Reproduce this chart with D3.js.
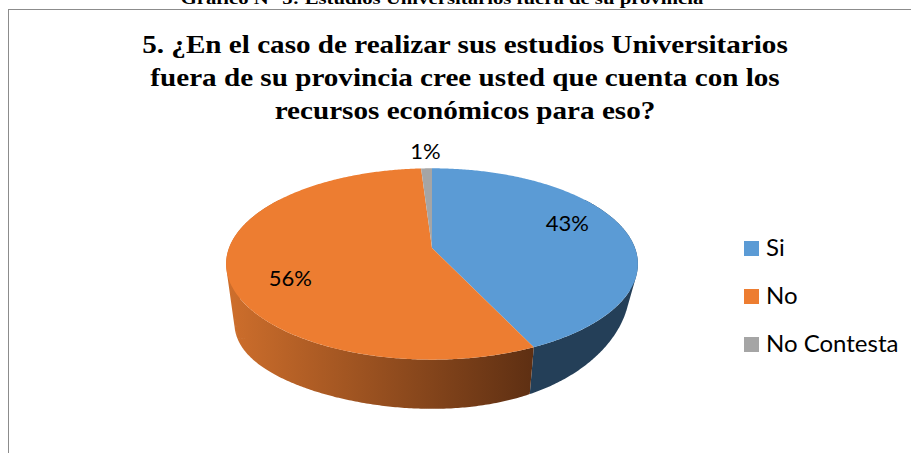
<!DOCTYPE html>
<html lang="es">
<head>
  <meta charset="UTF-8" />
  <title>Gráfico N° 5: Estudios Universitarios fuera de su provincia</title>
  <script src="https://d3js.org/d3.v7.min.js"></script>
  <style>
    body {
      margin: 0;
      background: #fff;
    }

    svg {
      display: block;
      background-color: #fff;
    }

    .caption, .title {
      font-family: "Liberation Serif", "Times New Roman", serif;
      font-weight: bold;
      fill: #000;
    }

    .caption { font-size: 17px; }
    .title { font-size: 25px; }

    .lbl, .legend text {
      font-family: Lato, "Open Sans", sans-serif;
      fill: #000;
    }
  </style>
</head>
<body>
  <div id="chart"></div>

  <script>
    // datos
    const categories = ["Si", "No", "No Contesta"];
    const percents = [43, 56, 1];
    const colors = ["#5B9BD5", "#ED7D31", "#A5A5A5"];
    const sideColors = ["#243F58", "url(#sideNo)", "#6E6E6E"];
    const caption = "Gráfico N° 5: Estudios Universitarios fuera de su provincia";
    const titleLines = [
      "5. ¿En el caso de realizar sus estudios Universitarios",
      "fuera de su provincia cree usted que cuenta con los",
      "recursos económicos para eso?"
    ];

    const width = 911, height = 453;

    // geometria del pastel 3D (perspectiva simple, algo girado)
    const cx = 432, cy = 248, rx = 203, ry = 93, persp = 0.167;
    const depth = 41, tilt = 17, shrink = 0.96;

    function project(a, r = 1) {
      const u = Math.sin(a) * r, v = -Math.cos(a) * r;
      const s = 1 / (1 - persp * v);
      return [cx + rx * u * s, cy + ry * v * s];
    }

    function projectBottom(a) {
      const u = Math.sin(a), v = -Math.cos(a);
      const p = project(a);
      return [
        cx + (p[0] - cx) * shrink,
        p[1] + depth / (1 - persp * v) - tilt * u * u * u
      ];
    }

    function angles(a0, a1) {
      const n = Math.max(2, Math.ceil((a1 - a0) / 0.01));
      return d3.range(n + 1).map(i => a0 + (a1 - a0) * i / n);
    }

    // triangulo siempre con la misma orientacion (para que la regla nonzero los una)
    function tri(p, q, r) {
      const area = (q[0] - p[0]) * (r[1] - p[1]) - (q[1] - p[1]) * (r[0] - p[0]);
      return area >= 0 ? [p, q, r] : [p, r, q];
    }

    const svg = d3.select("#chart")
      .append("svg")
      .attr("width", width)
      .attr("height", height);

    const defs = svg.append("defs");
    const grad = defs.append("linearGradient")
      .attr("id", "sideNo")
      .attr("gradientUnits", "userSpaceOnUse")
      .attr("x1", cx - rx * 1.02).attr("x2", cx + 107)
      .attr("y1", 0).attr("y2", 0);
    grad.append("stop").attr("offset", "0%").attr("stop-color", "#CF6F2C");
    grad.append("stop").attr("offset", "100%").attr("stop-color", "#5C2E12");

    // marco del area del grafico
    svg.append("rect")
      .attr("x", 8.5).attr("y", 9.5)
      .attr("width", 1000).attr("height", 1000)
      .attr("fill", "none")
      .attr("stroke", "#8C8C8C");

    svg.append("text")
      .attr("class", "caption")
      .attr("transform", "translate(442,4) scale(1.22,1)")
      .attr("text-anchor", "middle")
      .text(caption);

    svg.append("g")
      .selectAll("text")
      .data(titleLines)
      .join("text")
      .attr("class", "title")
      .attr("transform", (d, i) => `translate(465,${53 + i * 33}) scale(1.166,1)`)
      .attr("text-anchor", "middle")
      .text(d => d);

    const data = categories.map((c, i) => ({ cat: c, value: percents[i], color: colors[i], side: sideColors[i] }));
    const arcs = d3.pie().sort(null).value(d => d.value)(data);

    const line = d3.line();

    // paredes laterales: triangulos finos, la parte trasera queda tapada por la cara superior
    const pie = svg.append("g");
    pie.selectAll("path.side")
      .data(arcs)
      .join("path")
      .attr("class", "side")
      .attr("fill", d => d.data.side)
      .attr("d", d => {
        const a0 = Math.max(d.startAngle, Math.PI / 2 - 0.6);
        const a1 = Math.min(d.endAngle, Math.PI * 1.5 + 0.6);
        if (a0 >= a1) return null;
        const as = angles(a0, a1);
        let path = "";
        for (let i = 0; i < as.length - 1; i++) {
          const t0 = project(as[i]), t1 = project(as[i + 1]);
          const b0 = projectBottom(as[i]), b1 = projectBottom(as[i + 1]);
          path += line(tri(t0, t1, b1)) + "Z" + line(tri(t0, b1, b0)) + "Z";
        }
        return path;
      });

    // caras superiores
    pie.selectAll("path.top")
      .data(arcs)
      .join("path")
      .attr("class", "top")
      .attr("fill", d => d.data.color)
      .attr("d", d => line([[cx, cy]].concat(angles(d.startAngle, d.endAngle).map(a => project(a)))) + "Z");

    // etiquetas de datos
    pie.selectAll("text.lbl")
      .data(arcs)
      .join("text")
      .attr("class", "lbl")
      .attr("font-size", 22)
      .attr("text-anchor", "middle")
      .attr("dy", "0.35em")
      .attr("transform", d => {
        const mid = (d.startAngle + d.endAngle) / 2;
        const outside = d.data.value < 5;
        const p = project(mid, outside ? 1.26 : 0.7);
        const y = outside ? p[1] : cy + (p[1] - cy) * 1.8;
        return `translate(${p[0]},${y})`;
      })
      .text(d => d.data.value + "%");

    // leyenda
    const legend = svg.append("g")
      .attr("class", "legend")
      .attr("transform", "translate(744,241)");

    categories.forEach((cat, i) => {
      const row = legend.append("g")
        .attr("transform", `translate(0,${i * 48})`);

      row.append("rect")
        .attr("width", 15)
        .attr("height", 15)
        .attr("fill", colors[i]);

      row.append("text")
        .attr("x", 22)
        .attr("y", 15)
        .attr("font-size", 24)
        .text(cat);
    });
  </script>
</body>
</html>
